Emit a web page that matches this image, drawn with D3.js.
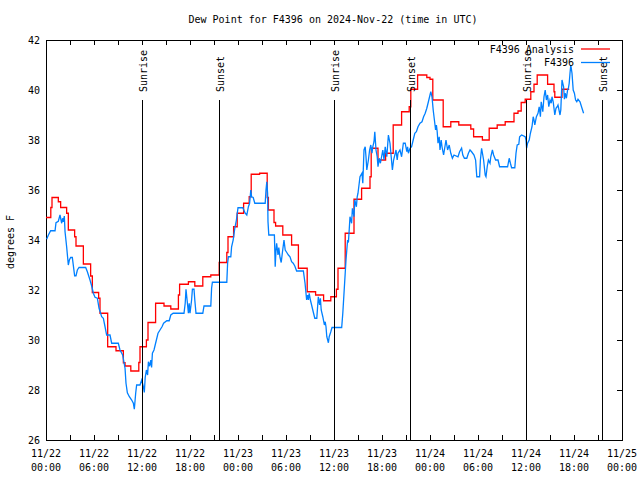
<!DOCTYPE html>
<html><head><meta charset="utf-8">
<script src="https://cdn.jsdelivr.net/npm/d3@7"></script>
<style>
body{margin:0;background:#fff}
svg{display:block}
text{font-family:"DejaVu Sans Mono","Liberation Mono",monospace;font-size:10px;fill:#000}
</style>
</head><body>
<svg id="c" width="640" height="480"></svg>
<script>
// ---------- data ----------
const chartTitle = "Dew Point for F4396 on 2024-Nov-22 (time in UTC)";
const yAxisLabel = "degrees F";
const yTickValues = [26, 28, 30, 32, 34, 36, 38, 40, 42];
const xTickHours = [0, 6, 12, 18, 24, 30, 36, 42, 48, 54, 60, 66, 72];
const xTickDates = ["11/22","11/22","11/22","11/22","11/23","11/23","11/23","11/23","11/24","11/24","11/24","11/24","11/25"];
const xTickTimes = ["00:00","06:00","12:00","18:00","00:00","06:00","12:00","18:00","00:00","06:00","12:00","18:00","00:00"];
const legendNames = ["F4396 Analysis", "F4396"];
const sunNames = ["Sunrise","Sunset","Sunrise","Sunset","Sunrise","Sunset"];
const sunHours = [12, 21.6, 36, 45.5, 60, 69.5];

// analysis (step series): hours since 2024-11-22 00:00 UTC, value holds until next
const analysisHours = [0,0.6,0.75,1.54,1.83,2.58,2.79,3.58,3.75,4.67,5.58,5.79,6.58,6.75,7.71,8.75,9.67,9.88,10.6,11.6,11.75,12.55,12.75,13.7,14.75,15.6,16.55,16.7,17.8,18.6,19.6,20.6,21.65,22.6,22.75,23.45,23.9,24.7,25.4,25.65,26.7,27.65,27.8,28.5,28.7,29.6,30.7,31.55,32.65,33.7,34.7,35.6,36.3,36.5,37.4,38.5,39.45,40.5,40.65,41.5,42.45,43.4,44.45,45.4,45.6,46.45,47.6,48.0,48.35,49.65,50.6,51.6,53.1,53.45,54.55,55.4,56.4,57.4,58.5,59.0,59.4,59.9,60.6,61.0,61.4,62.7,63.5,63.6,64.5,65.4];
const analysisValues = [34.9,35.3,35.7,35.53,35.3,35.07,34.4,34.13,33.76,33.04,32.56,31.9,31.67,31.07,29.73,29.57,29.09,28.96,28.76,29.1,29.73,30.0,30.7,31.47,31.36,31.24,31.8,32.23,32.33,32.16,32.53,32.6,33.1,33.5,34.13,34.53,35.07,35.47,35.73,36.63,36.67,35.7,35.2,34.7,34.56,34.2,33.8,32.87,31.93,31.8,31.57,31.73,32.03,32.87,34.27,35.63,36.07,36.53,37.67,37.2,37.47,38.6,39.13,39.33,40.03,40.6,40.5,40.43,39.6,38.53,38.73,38.6,38.44,38.13,38.0,38.47,38.6,38.73,39.07,39.16,39.5,39.63,39.93,40.23,40.6,40.23,39.93,39.71,40.03,40.03];

// observations
const obsHours = [0.08,0.3,0.58,1.13,1.25,1.54,1.75,1.96,2.08,2.17,2.29,2.38,2.58,2.79,2.92,3.08,3.29,3.58,3.75,3.92,4.13,4.96,5.17,5.5,5.71,5.92,6.13,6.42,6.63,6.96,7.17,7.38,7.58,8.0,8.21,9.04,9.25,9.58,9.88,10.0,10.17,10.42,10.71,10.92,11.04,11.21,11.33,11.75,11.96,12.17,12.29,12.4,12.55,12.7,12.8,12.95,13.1,13.2,13.3,13.5,13.7,13.8,14.0,14.25,14.5,14.7,15.1,15.4,15.6,15.9,16.25,17.25,17.4,17.5,17.7,17.8,17.9,18.0,18.2,18.3,18.5,18.6,18.75,19.6,19.75,20.6,20.7,20.8,22.6,22.7,22.8,23.1,23.2,23.4,23.6,23.8,24.0,24.6,24.9,25.1,25.3,25.45,25.6,25.7,25.9,26.1,27.4,27.5,27.6,27.7,27.75,27.85,28.55,28.65,28.75,28.83,29.0,29.1,29.25,29.4,29.55,29.75,29.9,30.1,30.3,30.5,30.7,30.9,31.1,31.33,32.17,32.38,32.58,32.7,32.8,32.9,33.05,33.2,33.4,33.6,33.85,33.95,34.04,34.2,34.3,34.4,34.6,34.8,34.9,35.0,35.1,35.3,35.4,35.6,35.75,36.96,37.1,37.25,37.4,37.5,37.7,37.8,37.9,38.0,38.2,38.3,38.5,38.6,38.8,38.9,39.0,39.25,39.5,39.6,39.75,39.9,40.0,40.1,40.3,40.45,40.6,40.75,40.85,41.0,41.1,41.25,41.4,41.5,41.65,41.8,42.1,42.25,42.4,42.6,42.8,43.0,43.15,43.3,43.45,43.75,43.9,44.0,44.25,44.45,44.67,44.9,45.1,45.2,45.3,45.5,45.7,45.9,46.1,46.3,46.5,46.75,47.0,47.2,47.4,47.6,47.8,48.0,48.1,48.25,48.4,48.55,48.7,48.8,48.9,49.0,49.15,49.25,49.4,49.5,49.7,49.9,50.0,50.2,50.4,50.6,50.8,51.0,51.5,51.7,51.95,52.1,52.3,52.6,52.8,53.0,53.2,53.5,53.7,53.85,54.2,54.3,54.45,54.7,54.9,55.0,55.15,55.3,55.5,55.6,55.8,55.95,56.2,56.5,56.7,57.7,57.8,57.9,58.05,58.2,58.6,58.75,58.9,59.1,59.2,59.45,59.9,60.0,60.08,60.2,60.4,60.55,60.75,60.9,61.0,61.1,61.3,61.5,61.65,61.8,61.9,62.1,62.25,62.4,62.55,62.7,62.85,63.0,63.15,63.25,63.4,63.6,63.75,63.9,64.0,64.25,64.35,64.5,64.7,64.8,64.9,65.05,65.2,65.3,65.4,65.5,65.6,65.75,65.9,66.05,66.2,66.35,66.5,66.75,67.0,67.2];
const obsValues = [34.03,34.2,34.37,34.37,34.69,34.75,35.0,34.67,34.87,34.73,34.96,34.33,33.73,33.0,33.2,33.3,33.3,32.57,32.57,32.8,32.9,32.9,32.73,32.4,32.16,31.87,31.71,31.67,31.27,30.93,30.87,30.53,30.2,30.2,29.87,29.87,29.6,29.4,28.87,28.27,27.89,27.73,27.6,27.47,27.23,27.87,28.2,28.2,28.4,28.13,27.9,28.5,28.8,28.6,29.13,28.95,29.2,28.9,29.47,29.6,29.87,30.0,30.27,30.4,30.53,30.67,30.77,30.77,31.0,31.07,31.07,31.07,31.47,32.03,31.4,31.07,31.47,31.07,31.6,32.03,32.03,31.6,31.07,31.07,31.36,31.36,32.07,32.31,32.31,33.07,33.33,33.33,33.73,34.0,34.47,34.8,35.29,35.29,35.07,35.0,35.33,35.47,36.0,35.73,35.7,35.47,35.47,36.0,36.33,35.87,34.73,34.2,34.2,32.93,33.6,33.87,33.4,33.7,33.3,33.1,33.5,34.0,33.6,33.5,33.4,33.33,33.13,33.07,32.96,32.76,32.76,32.27,31.6,31.8,31.6,31.87,31.6,31.4,31.13,30.87,30.87,31.33,31.73,31.4,31.67,31.2,30.93,30.6,30.73,30.53,30.13,29.89,30.13,30.33,30.5,30.5,31.07,31.87,32.67,33.2,34.0,33.9,34.4,34.93,34.67,35.27,34.93,35.6,35.33,35.73,35.87,36.53,36.67,36.27,37.6,37.73,37.33,36.8,37.2,37.6,37.8,37.47,37.73,37.93,38.33,37.6,37.33,36.93,37.27,37.07,37.6,37.2,37.73,37.33,38.2,37.87,37.33,36.8,37.2,37.6,37.2,37.47,37.6,37.33,37.87,37.87,37.53,37.73,37.47,37.67,37.73,38.0,38.27,38.33,38.53,38.67,38.73,38.93,39.07,39.27,39.53,39.8,39.93,39.73,39.2,38.8,38.4,38.6,38.33,37.87,38.13,37.6,38.0,37.73,37.4,37.8,38.0,37.6,37.8,37.47,37.27,37.4,37.33,37.53,37.67,37.4,37.27,37.27,37.47,37.6,37.53,37.4,37.2,36.53,36.53,37.2,37.67,37.2,36.6,36.53,36.93,37.2,37.07,37.33,37.6,37.4,37.2,37.2,36.93,36.93,37.1,37.27,37.07,36.89,36.89,37.47,37.8,37.83,38.13,38.2,38.13,38.0,37.67,37.87,38.0,38.27,38.53,38.93,38.8,38.6,38.93,39.07,39.33,38.93,39.53,39.13,39.73,40.0,39.6,39.8,39.33,39.6,39.47,39.73,39.53,39.0,39.27,39.33,39.4,39.0,39.2,40.4,40.13,39.63,39.87,39.67,40.0,40.07,40.27,40.67,41.0,40.67,40.0,39.87,39.6,39.53,39.63,39.53,39.27,39.07];

// ---------- drawing ----------
const mLeft = 46, mRight = 622, mTop = 40, mBottom = 440;
const svg = d3.select("#c");
const x = d3.scaleLinear().domain([0, 72]).range([mLeft, mRight]);
const y = d3.scaleLinear().domain([26, 42]).range([mBottom, mTop]);

const RED = "#ff0000", BLUE = "#0080ff";
const FONT = '"DejaVu Sans Mono","Liberation Mono",monospace';

// title
svg.append("text").attr("x", 333).attr("y", 23).attr("text-anchor", "middle").text(chartTitle);

// y label
svg.append("text").attr("transform", "translate(14,242) rotate(-90)")
  .attr("text-anchor", "middle").text(yAxisLabel);

// x ticks every 3 h
const xTicks3 = d3.range(0, 73, 3);

// bottom axis (inward ticks)
const gB = svg.append("g").attr("transform", `translate(0,${mBottom})`)
  .call(d3.axisBottom(x).tickValues(xTicks3).tickSizeInner(-5).tickSizeOuter(0).tickFormat(() => ""));
gB.select(".domain").remove();
gB.selectAll("line").attr("stroke", "#000").attr("shape-rendering", "crispEdges");

// bottom labels (two lines)
const lab = svg.append("g");
xTickHours.forEach((h, i) => {
  const t = lab.append("text").attr("x", x(h)).attr("text-anchor", "middle");
  t.append("tspan").attr("x", x(h)).attr("y", 457).text(xTickDates[i]);
  t.append("tspan").attr("x", x(h)).attr("y", 471).text(xTickTimes[i]);
});

// top axis (inward ticks)
const gT = svg.append("g").attr("transform", `translate(0,${mTop})`)
  .call(d3.axisTop(x).tickValues(xTicks3).tickSizeInner(-5).tickSizeOuter(0).tickFormat(() => ""));
gT.select(".domain").remove();
gT.selectAll("line").attr("stroke", "#000").attr("shape-rendering", "crispEdges");

// left axis labels
const gL = svg.append("g").attr("transform", `translate(${mLeft},0)`)
  .call(d3.axisLeft(y).tickValues(yTickValues).tickSize(0).tickPadding(6).tickFormat(d3.format("d")));
gL.select(".domain").remove();
gL.selectAll("text").attr("font-family", null).attr("font-size", null)
  .style("font-family", FONT).style("font-size", "10px");

// right axis ticks (inward)
const gR = svg.append("g").attr("transform", `translate(${mRight},0)`)
  .call(d3.axisRight(y).tickValues(yTickValues).tickSizeInner(-5).tickSizeOuter(0).tickFormat(() => ""));
gR.select(".domain").remove();
gR.selectAll("line").attr("stroke", "#000").attr("shape-rendering", "crispEdges");

// border
svg.append("rect").attr("x", mLeft + 0.5).attr("y", mTop + 0.5)
  .attr("width", mRight - mLeft).attr("height", mBottom - mTop)
  .attr("fill", "none").attr("stroke", "#000").attr("shape-rendering", "crispEdges");

// clip
svg.append("clipPath").attr("id", "clip").append("rect")
  .attr("x", mLeft).attr("y", mTop).attr("width", mRight - mLeft).attr("height", mBottom - mTop);

// analysis line
const aData = analysisHours.map((h, i) => [h, analysisValues[i]]);
svg.append("path").attr("clip-path", "url(#clip)")
  .attr("d", d3.line().x(d => x(d[0])).y(d => y(d[1])).curve(d3.curveStepAfter)(aData))
  .attr("fill", "none").attr("stroke", RED).attr("stroke-width", 1.3);

// observation line
const oData = obsHours.map((h, i) => [h, obsValues[i]]);
svg.append("path").attr("clip-path", "url(#clip)")
  .attr("d", d3.line().x(d => x(d[0])).y(d => y(d[1]))(oData))
  .attr("fill", "none").attr("stroke", BLUE).attr("stroke-width", 1.3);

// sunrise / sunset markers
sunHours.forEach((h, i) => {
  const px = Math.round(x(h)) + 0.5;
  svg.append("line").attr("x1", px).attr("x2", px).attr("y1", 100).attr("y2", mBottom)
    .attr("stroke", "#000").attr("stroke-width", 1);
  svg.append("text").attr("transform", `translate(${px + 4},92) rotate(-90)`)
    .attr("text-anchor", "start").text(sunNames[i]);
});

// legend
const legColors = [RED, BLUE];
legendNames.forEach((n, i) => {
  const ly = 49 + i * 13.5;
  svg.append("text").attr("x", 574).attr("y", ly + 3.5).attr("text-anchor", "end").text(n);
  svg.append("line").attr("x1", 581).attr("x2", 610).attr("y1", ly).attr("y2", ly)
    .attr("stroke", legColors[i]).attr("stroke-width", 1.3);
});
</script>
</body></html>
